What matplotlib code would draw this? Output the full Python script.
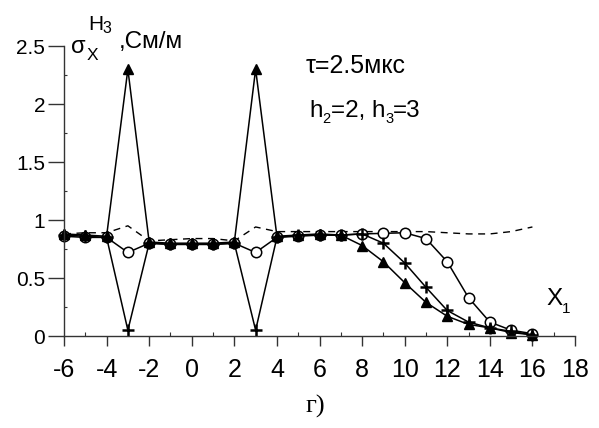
import matplotlib
matplotlib.use("Agg")
import matplotlib.pyplot as plt
from matplotlib.ticker import MultipleLocator

plt.rcParams['font.family'] = ['Liberation Sans', 'DejaVu Sans']
plt.rcParams['axes.unicode_minus'] = False

x = list(range(-6, 17))
dashed = [0.88, 0.89, 0.89, 0.95, 0.82, 0.83, 0.84, 0.84, 0.82, 0.94, 0.90, 0.90,
          0.90, 0.90, 0.90, 0.90, 0.90, 0.90, 0.89, 0.88, 0.88, 0.90, 0.94]
circle = [0.86, 0.85, 0.85, 0.72, 0.80, 0.79, 0.79, 0.79, 0.80, 0.72, 0.85, 0.86,
          0.87, 0.87, 0.88, 0.885, 0.89, 0.84, 0.64, 0.33, 0.12, 0.05, 0.02]
plus = [0.87, 0.86, 0.85, 0.05, 0.80, 0.79, 0.79, 0.79, 0.80, 0.05, 0.85, 0.87,
        0.87, 0.87, 0.88, 0.80, 0.63, 0.42, 0.22, 0.12, 0.07, 0.04, 0.01]
triangle = [0.88, 0.87, 0.86, 2.30, 0.81, 0.80, 0.80, 0.80, 0.81, 2.30, 0.86, 0.87,
            0.88, 0.87, 0.78, 0.64, 0.46, 0.29, 0.17, 0.10, 0.07, 0.03, 0.01]

xticks = [-6, -4, -2, 0, 2, 4, 6, 8, 10, 12, 14, 16, 18]
yticks = [0, 0.5, 1, 1.5, 2, 2.5]
ytick_labels = ["0", "0.5", "1", "1.5", "2", "2.5"]

W, H = 599, 428
fig = plt.figure(figsize=(W / 100, H / 100), dpi=100)
ax = fig.add_axes([64 / W, 92 / H, 511 / W, 290 / H])

ax.plot(x, dashed, color='black', lw=1.0, ls=(0, (5, 4)), clip_on=False)
ax.plot(x, circle, color='black', lw=1.1, marker='o', ms=7.5, mfc='white',
        mec='black', mew=1.1, clip_on=False)
ax.plot(x, plus, color='black', lw=1.1, marker='+', ms=9, mew=1.8, clip_on=False)
ax.plot(x, triangle, color='black', lw=1.1, marker='^', ms=6.5, mfc='black',
        mec='black', clip_on=False)

ax.set_xlim(-6, 18)
ax.set_ylim(0, 2.5)
for s in ['top', 'right']:
    ax.spines[s].set_visible(False)
for s in ['left', 'bottom']:
    ax.spines[s].set_color('#333333')
    ax.spines[s].set_linewidth(1.0)

ax.set_xticks(xticks)
ax.set_xticklabels([str(v) for v in xticks])
ax.set_yticks(yticks)
ax.set_yticklabels(ytick_labels)
ax.xaxis.set_minor_locator(MultipleLocator(1))
ax.yaxis.set_minor_locator(MultipleLocator(0.25))

ax.tick_params(axis='x', which='major', direction='out', length=7.5, width=1.0,
               color='#333333', labelsize=18, pad=8)
ax.tick_params(axis='x', which='minor', direction='in', length=3, width=0.8,
               color='#333333')
ax.tick_params(axis='y', which='major', direction='out', length=11.5, width=1.0,
               color='#333333', labelsize=15, pad=2)
ax.tick_params(axis='y', which='minor', direction='in', length=2.5, width=0.8,
               color='#333333')

renderer = fig.canvas.get_renderer()


def fx(px):
    return px / W


def fy(py):
    return 1 - py / H


def run(px, py, pieces, **kw):
    """pieces: list of (text, fontsize, baseline_offset_px)"""
    cur = px
    for txt, fs, dy in pieces:
        t = fig.text(fx(cur), fy(py + dy), txt, fontsize=fs, ha='left',
                     va='baseline', **kw)
        cur += t.get_window_extent(renderer).width
    return cur


# y-axis label pieces
fig.text(fx(71), fy(53), 'σ', fontsize=17, ha='left', va='baseline')
fig.text(fx(87), fy(60), 'X', fontsize=12.5, ha='left', va='baseline')
fig.text(fx(88), fy(30), 'H', fontsize=15, ha='left', va='baseline')
fig.text(fx(102), fy(33), '3', fontsize=11.5, ha='left', va='baseline')
fig.text(fx(119), fy(48), ',См/м', fontsize=17.5, ha='left', va='baseline')

# annotations
run(306, 73, [('τ=2.5мкс', 18, 0)])
run(309, 117, [('h', 17.5, 0), ('2', 10.5, 6), ('=2, h', 17.5, 0), ('3', 10.5, 6),
               ('=3', 17.5, 0)])

run(546, 305, [('X', 17.5, 0), ('1', 11, 8)])

fig.text(fx(305), fy(413), 'г)', fontsize=19, ha='left', va='baseline',
         family=['Liberation Serif', 'DejaVu Serif'])

fig.savefig('out.png', dpi=100)
